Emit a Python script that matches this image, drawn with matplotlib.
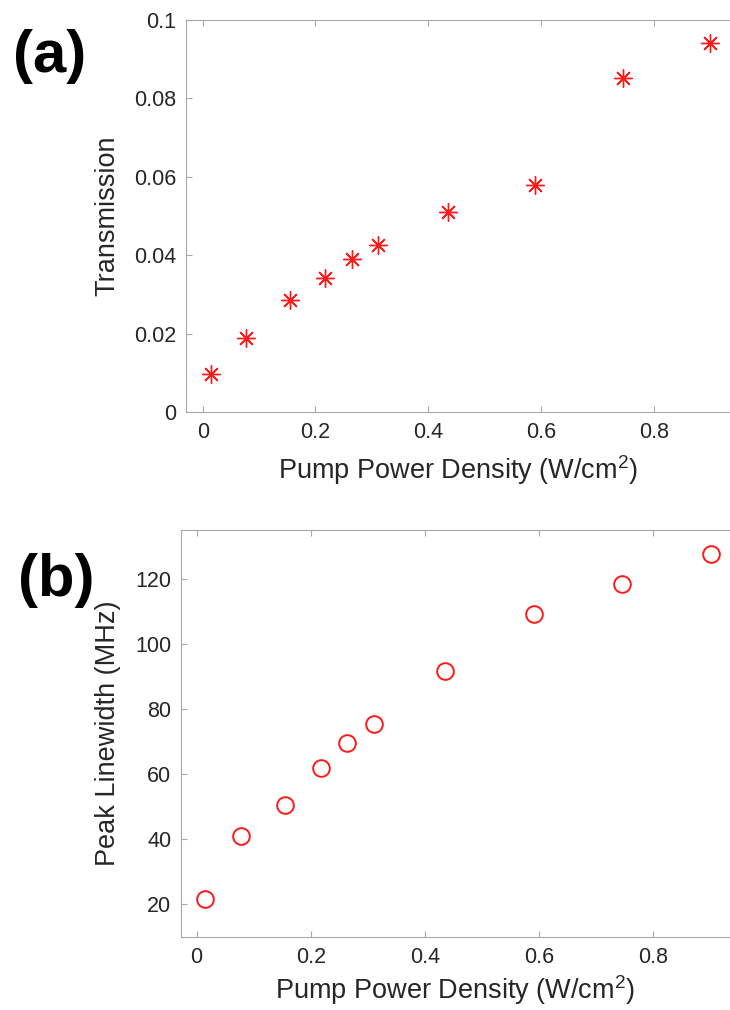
import numpy as np
import matplotlib
matplotlib.use('Agg')
import matplotlib.pyplot as plt

# pump power density (W/cm^2), same for both panels
pump = [0.015, 0.077, 0.155, 0.217, 0.264, 0.31, 0.435, 0.59, 0.745, 0.9]
# (a) transmission
trans = [0.0099, 0.0189, 0.0287, 0.0343, 0.0392, 0.0428, 0.0510, 0.0580, 0.0851, 0.0942]
# (b) peak linewidth in MHz
linewidth = [21.6, 40.9, 50.6, 61.9, 69.4, 75.3, 91.6, 109.1, 118.3, 127.6]

xticks = [0, 0.2, 0.4, 0.6, 0.8]
yticks_a = [0, 0.02, 0.04, 0.06, 0.08, 0.1]
ylabels_a = ['0', '0.02', '0.04', '0.06', '0.08', '0.1']
yticks_b = [20, 40, 60, 80, 100, 120]

plt.rcParams['font.family'] = ['Liberation Sans', 'DejaVu Sans']
plt.rcParams['mathtext.fontset'] = 'custom'
plt.rcParams['mathtext.rm'] = 'Liberation Sans'
plt.rcParams['mathtext.it'] = 'Liberation Sans'

axcol = '#a8a8a8'
txtcol = '#262626'
W, H = 730, 1010

fig = plt.figure(figsize=(W / 100, H / 100), dpi=100)


def style(ax):
    ax.spines['right'].set_visible(False)
    for s in ['left', 'bottom', 'top']:
        ax.spines[s].set_color(axcol)
        ax.spines[s].set_linewidth(0.8)
    ax.tick_params(direction='in', length=4, width=0.8, color=axcol,
                   labelcolor=txtcol, labelsize=15.5, top=True, right=False, pad=7)
    ax.set_xticks(xticks)
    ax.set_xticklabels(['0', '0.2', '0.4', '0.6', '0.8'])


# panel (a)
ax1 = fig.add_axes([186 / W, 1 - 412.5 / H, (W - 186) / W, 392.5 / H])
ax1.plot(pump, trans, linestyle='none', marker=(8, 2, 0), markersize=13,
         markeredgewidth=1.0, color='#ff1a1a')
ax1.set_xlim(-0.0296, 0.935)
ax1.set_ylim(0, 0.1)
ax1.set_yticks(yticks_a)
ax1.set_yticklabels(ylabels_a)
style(ax1)
ax1.set_ylabel('Transmission', fontsize=19.5, color=txtcol, labelpad=10)
ax1.set_xlabel(r'Pump Power Density (W/cm$^2$)', fontsize=19.5, color=txtcol, labelpad=7)

# panel (b)
ax2 = fig.add_axes([181 / W, 1 - 936.8 / H, (W - 181) / W, 406.8 / H])
ax2.plot(pump, linewidth, linestyle='none', marker='o', markersize=12,
         markerfacecolor='none', markeredgewidth=1.4, color='#ff1a1a')
ax2.set_xlim(-0.0273, 0.934)
ax2.set_ylim(10, 135)
ax2.set_yticks(yticks_b)
style(ax2)
ax2.set_ylabel('Peak Linewidth (MHz)', fontsize=19.5, color=txtcol, labelpad=10)
ax2.set_xlabel(r'Pump Power Density (W/cm$^2$)', fontsize=19.5, color=txtcol, labelpad=4)

# panel letters
fig.text(13 / W, 1 - 57 / H, '(a)', fontsize=43, fontweight='bold', ha='left', va='center')
fig.text(18 / W, 1 - 580 / H, '(b)', fontsize=43, fontweight='bold', ha='left', va='center')

fig.savefig('out.png', dpi=100)
